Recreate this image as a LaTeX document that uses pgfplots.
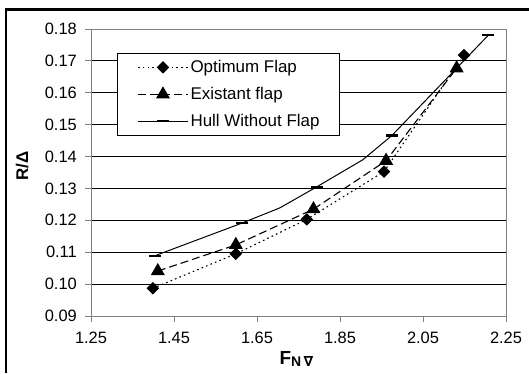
\documentclass[border=0pt]{standalone}
\usepackage{pgfplots}
\pgfplotsset{compat=1.18}
\usepackage{fontspec}
\setmainfont{Liberation Sans}
\newfontfamily\dejavu{DejaVu Sans}
\definecolor{axgray}{RGB}{128,128,128}
\begin{document}
\begin{tikzpicture}[x=1bp,y=1bp]
\useasboundingbox (0,0) rectangle (529,373);
\draw[line width=2.5bp] (6,0) -- (6,363.5) -- (529,363.5);
\begin{axis}[
  at={(91bp,57bp)}, anchor=south west,
  scale only axis, width=415bp, height=287bp,
  xmin=1.25, xmax=2.25, ymin=0.09, ymax=0.18,
  xtick={1.25,1.45,1.65,1.85,2.05,2.25},
  ytick={0.09,0.10,0.11,0.12,0.13,0.14,0.15,0.16,0.17,0.18},
  /pgf/number format/assume math mode=true,
  /pgf/number format/fixed, /pgf/number format/fixed zerofill, /pgf/number format/precision=2,
  every tick label/.append style={inner sep=0pt, font=\fontsize{16.5}{19}\selectfont},
  xticklabel style={yshift=-10bp},
  yticklabel style={xshift=-8bp},
  tick pos=left, tick align=outside, major tick length=6bp,
  tick style={axgray, line width=0.8bp},
  axis line style={axgray, line width=0.9bp},
  ymajorgrids, grid style={black, line width=0.8bp},
  xlabel={\bfseries\fontsize{19}{22}\selectfont F\raisebox{-2bp}{\fontsize{14}{16}\selectfont N\,{\dejavu\bfseries ∇}}},
  xlabel style={at={(axis description cs:0.495,-0.1707)}, anchor=base},
  ylabel={\textbf{R/Δ}},
  ylabel style={font=\fontsize{17}{20}\selectfont, at={(axis description cs:-0.166,0.523)}, rotate=0, anchor=center},
  legend cell align=left,
  legend style={at={(axis description cs:0.0627,0.9164)}, anchor=north west,
    draw=black, line width=0.8bp, fill=white, inner xsep=20bp, inner ysep=6.75bp,
    row sep=12.5bp, column sep=2bp, font=\fontsize{17}{20}\selectfont,
    nodes={inner sep=0pt, text height=12bp, text depth=2.5bp}},
  every axis plot/.append style={legend image code/.code={
      \draw[#1, mark=none] (0bp,0bp) -- (50bp,0bp);
      \draw[#1] plot coordinates {(25bp,0bp)};}},
  clip=false,
]
\addplot[black, line width=1.1bp, dash pattern=on 1.6bp off 3.2bp,
  mark=square*, mark size=3.9bp, mark options={solid, rotate=45}]
  coordinates {(1.399,0.0987) (1.599,0.1095) (1.770,0.1203) (1.956,0.1353) (2.149,0.1718)};
\addlegendentry{Optimum Flap}
\addplot[black, line width=1.1bp, dash pattern=on 8bp off 4bp,
  mark=triangle*, mark size=7bp, mark options={solid}]
  coordinates {(1.411,0.1041) (1.599,0.1123) (1.786,0.1235) (1.961,0.1387) (2.131,0.1677)};
\addlegendentry{Existant flap}
\addplot[black, line width=1bp, mark=-, mark size=6bp, mark indices={1,2,4,6,7},
  mark options={solid, line width=2.2bp}]
  coordinates {(1.404,0.1089) (1.615,0.1192) (1.705,0.1239) (1.794,0.1305) (1.905,0.1390) (1.975,0.1466) (2.207,0.1780)};
\addlegendentry{Hull Without Flap}
\end{axis}
\end{tikzpicture}
\end{document}
